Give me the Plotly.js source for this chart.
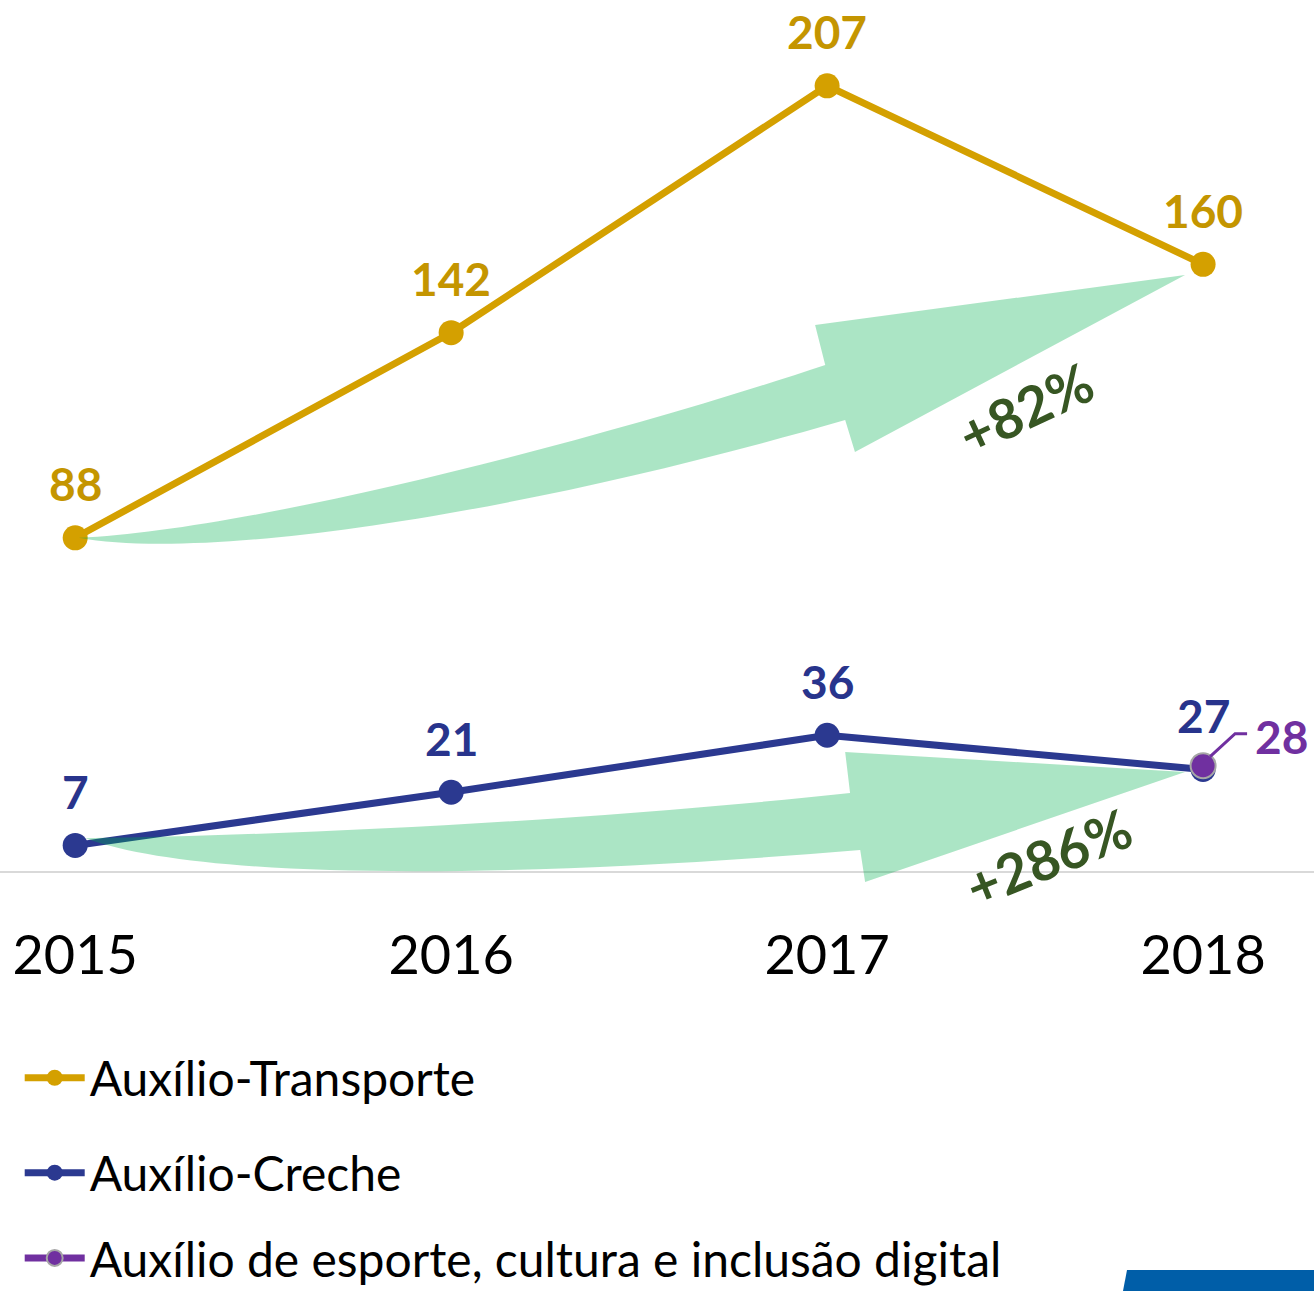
<!DOCTYPE html>
<html>
<head>
<meta charset="utf-8">
<script src="https://cdn.plot.ly/plotly-3.0.1.min.js"></script>
<style>html,body{margin:0;padding:0;background:#fff}#chart{width:1314px;height:1291px}</style>
</head>
<body>
<div id="chart"></div>
<script>
// ---- data ----
const years = ['2015', '2016', '2017', '2018'];
const transporte = [88, 142, 207, 160];
const creche = [7, 21, 36, 27];
const esporte = [null, null, null, 28];
const seriesNames = ['Auxílio-Transporte', 'Auxílio-Creche', 'Auxílio de esporte, cultura e inclusão digital'];
const growthLabels = ['+82%', '+286%'];

const FONT = 'Lato, "Open Sans", sans-serif';
const GOLD = '#D4A000', GOLD_T = '#C49500';
const NAVY = '#2B3990', NAVY_T = '#28348C';
const PURPLE = '#7030A0';
const xIdx = years.map((_, i) => i);

const traces = [
  {
    x: xIdx, y: transporte, name: seriesNames[0], type: 'scatter', mode: 'lines+markers',
    line: {color: GOLD, width: 7}, marker: {color: GOLD, size: 25},
    cliponaxis: false, legend: 'legend', hoverinfo: 'skip'
  },
  {
    x: xIdx, y: creche, name: seriesNames[1], type: 'scatter', mode: 'lines+markers',
    line: {color: NAVY, width: 7}, marker: {color: NAVY, size: 25},
    cliponaxis: false, legend: 'legend2', hoverinfo: 'skip'
  },
  {
    x: xIdx, y: esporte, name: seriesNames[2], type: 'scatter', mode: 'lines+markers',
    line: {color: PURPLE, width: 7}, marker: {color: PURPLE, size: 25, line: {color: '#A6A6A6', width: 2}},
    cliponaxis: false, legend: 'legend3', hoverinfo: 'skip'
  }
];

const last = years.length - 1;
const shapes = [
  // growth arrow 1 (Transporte)
  {type: 'path', xref: 'x', yref: 'y', layer: 'above', fillcolor: '#00B050', opacity: 0.33, line: {width: 0},
   path: `M0.01,${transporte[0]} C0.332,82.1 1.13,92.7 2.048,119 L2.074,110.6 L2.952,157.2 L1.968,144 L1.995,133.5 C1.396,113.7 0.465,90 0.01,${transporte[0]} Z`},
  // growth arrow 2 (Creche)
  {type: 'path', xref: 'x', yref: 'y', layer: 'above', fillcolor: '#00B050', opacity: 0.33, line: {width: 0},
   path: `M0.027,8.9 C0.332,-2.1 1.13,-2.1 2.088,5.8 L2.101,-2.6 L2.952,26.3 L2.048,31.6 L2.061,20.8 C1.396,13.7 0.598,9.7 0.027,8.9 Z`},
  // leader line for esporte label
  {type: 'path', xref: 'x', yref: 'y', xsizemode: 'pixel', ysizemode: 'pixel', xanchor: last, yanchor: esporte[last],
   path: 'M7,9 L32,32 L44,32', line: {color: PURPLE, width: 3}},
  // blue bar decoration bottom right
  {type: 'path', xref: 'paper', yref: 'paper', fillcolor: '#005EA8', line: {width: 0},
   path: 'M0.8577,-0.4111 L1.01,-0.4111 L1.01,-0.44 L0.8539,-0.44 Z'}
];

const labelFont = c => ({family: FONT, size: 46, color: c});
const annotations = [];
transporte.forEach((v, i) => annotations.push({x: i, y: v, xref: 'x', yref: 'y', text: '<b>' + v + '</b>',
  showarrow: false, yshift: 54, font: labelFont(GOLD_T)}));
creche.forEach((v, i) => annotations.push({x: i, y: v, xref: 'x', yref: 'y', text: '<b>' + v + '</b>',
  showarrow: false, yshift: 54, font: labelFont(NAVY_T)}));
annotations.push(
  {x: last, y: esporte[last], xref: 'x', yref: 'y', text: '<b>' + esporte[last] + '</b>', showarrow: false,
   xshift: 78, yshift: 29, font: labelFont(PURPLE)},
  {x: 2.527, y: 122.2, xref: 'x', yref: 'y', text: '<b>' + growthLabels[0] + '</b>', showarrow: false, textangle: -25,
   font: {family: FONT, size: 55, color: '#375623'}},
  {x: 2.588, y: 3.95, xref: 'x', yref: 'y', text: '<b>' + growthLabels[1] + '</b>', showarrow: false, textangle: -22,
   font: {family: FONT, size: 55, color: '#375623'}}
);

const legendBase = {x: 0.015, xanchor: 'left', yanchor: 'middle', bgcolor: 'rgba(0,0,0,0)',
  font: {family: FONT, size: 48, color: '#000'}, itemsizing: 'trace', itemwidth: 60};

const layout = {
  width: 1314, height: 1291, autosize: false,
  margin: {l: 0, r: 0, t: 0, b: 391, pad: 0, autoexpand: false},
  paper_bgcolor: '#fff', plot_bgcolor: '#fff',
  showlegend: true,
  xaxis: {range: [-0.2, 3.295], tickvals: xIdx, ticktext: years, showgrid: false, zeroline: false,
          showline: false, ticks: '', ticklabelstandoff: 19,
          tickfont: {family: FONT, size: 54, color: '#000'}, fixedrange: true},
  yaxis: {range: [-7.37, 229.6], showgrid: false, zeroline: true, zerolinecolor: '#D9D9D9', zerolinewidth: 2,
          showticklabels: false, ticks: '', fixedrange: true},
  legend: Object.assign({}, legendBase, {y: -0.1978}),
  legend2: Object.assign({}, legendBase, {y: -0.3033}),
  legend3: Object.assign({}, legendBase, {y: -0.398}),
  shapes: shapes,
  annotations: annotations
};

Plotly.newPlot('chart', traces, layout, {displayModeBar: false, staticPlot: true});
</script>
</body>
</html>
